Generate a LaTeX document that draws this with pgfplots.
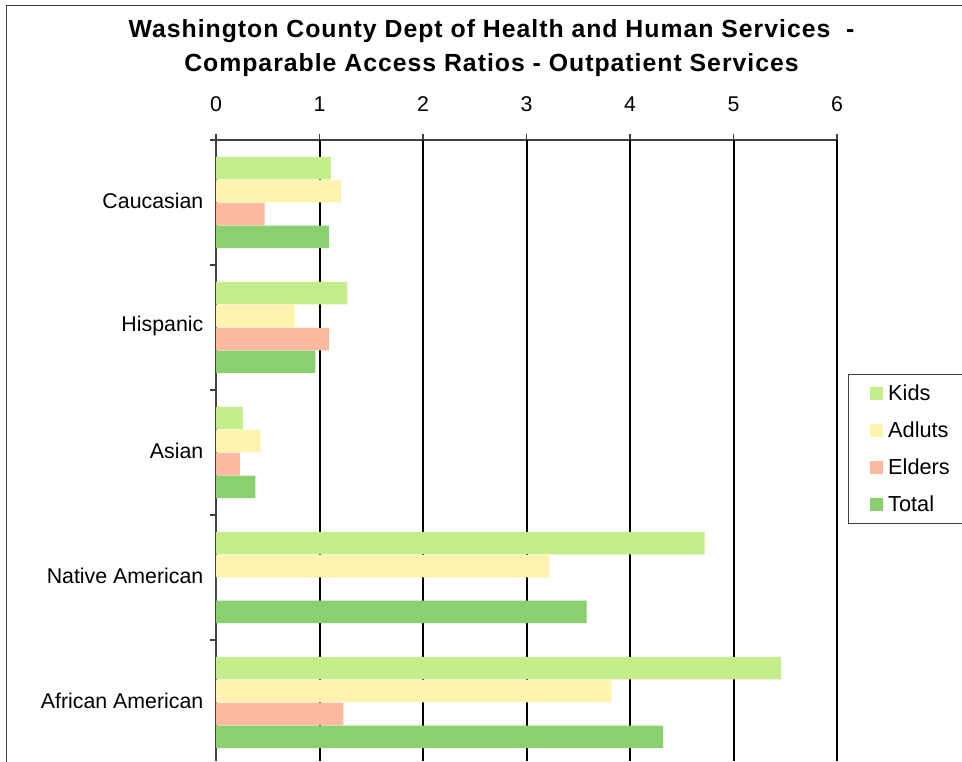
\documentclass[border=0pt]{standalone}
\usepackage{fontspec}
\setmainfont{Liberation Sans}
\newfontfamily\titlefont[LetterSpace=4]{Liberation Sans Bold}
\usepackage{pgfplots}
\pgfplotsset{compat=1.18}
\definecolor{kids}{HTML}{C4EE8C}
\definecolor{adults}{HTML}{FFF3AD}
\definecolor{elders}{HTML}{FFB9A0}
\definecolor{total}{HTML}{8AD06F}
\begin{document}
\begin{tikzpicture}[x=0.75pt,y=0.75pt]
\useasboundingbox (0,0) rectangle (962,-761);
\draw[black!75, line width=1.1pt] (6.5,-765) -- (6.5,-5.5) -- (965,-5.5);
\node[font=\fontsize{18.6}{25.5}\selectfont\titlefont, align=center] at (491.5,-48)
  {Washington County Dept of Health and Human Services \ -\\Comparable Access Ratios - Outpatient Services};
\begin{axis}[
  at={(162pt,-105pt)}, anchor=north west,
  width=465.75pt, height=465.75pt, scale only axis,
  xmin=0, xmax=6, ymin=-0.468, ymax=4.5,
  axis x line*=top, axis y line*=left,
  xbar, bar width=0.18,
  xtick={0,...,6},
  ytick={0,...,4},
  yticklabels={African American, Native American, Asian, Hispanic, Caucasian},
  minor ytick={0.5,1.5,2.5,3.5,4.5},
  tick align=outside,
  major tick length=4.5pt, minor tick length=4.5pt,
  major y tick style={draw=none},
  tick style={black!75, line width=0.8pt},
  extra x ticks={1,2,3,4,5,6}, extra x tick labels={},
  extra x tick style={grid=major, major tick length=0pt},
  major grid style={black, line width=1.5pt},
  axis line style={black!75, line width=0.8pt},
  tick label style={font=\fontsize{16}{18}\selectfont},
  /pgf/number format/assume math mode=true,
  xticklabel style={yshift=13pt},
  yticklabel style={xshift=-1.5pt, yshift=1.2pt},
  legend style={at={(1.0177,0.6232)}, anchor=north west, draw=black!75,
    line width=0.8pt, font=\fontsize{16.3}{18}\selectfont, row sep=10.5pt,
    inner xsep=16pt, inner ysep=5.5pt},
  legend cell align=left,
  legend image code/.code={\fill[#1, draw=none] (0pt,-4.9pt) rectangle (9.75pt,4.9pt);},
]
\addplot[fill=kids, draw=none, bar shift=0.275] coordinates {(1.11,4) (1.27,3) (0.26,2) (4.72,1) (5.46,0)};
\addplot[fill=adults, draw=none, bar shift=0.092] coordinates {(1.21,4) (0.76,3) (0.43,2) (3.22,1) (3.82,0)};
\addplot[fill=elders, draw=none, bar shift=-0.092] coordinates {(0.47,4) (1.09,3) (0.23,2) (0,1) (1.23,0)};
\addplot[fill=total, draw=none, bar shift=-0.275] coordinates {(1.09,4) (0.96,3) (0.38,2) (3.58,1) (4.32,0)};
\legend{\makebox[60pt][l]{\hspace{2pt}Kids}, \makebox[60pt][l]{\hspace{2pt}Adluts}, \makebox[60pt][l]{\hspace{2pt}Elders}, \makebox[60pt][l]{\hspace{2pt}Total}}
\end{axis}
\end{tikzpicture}
\end{document}
